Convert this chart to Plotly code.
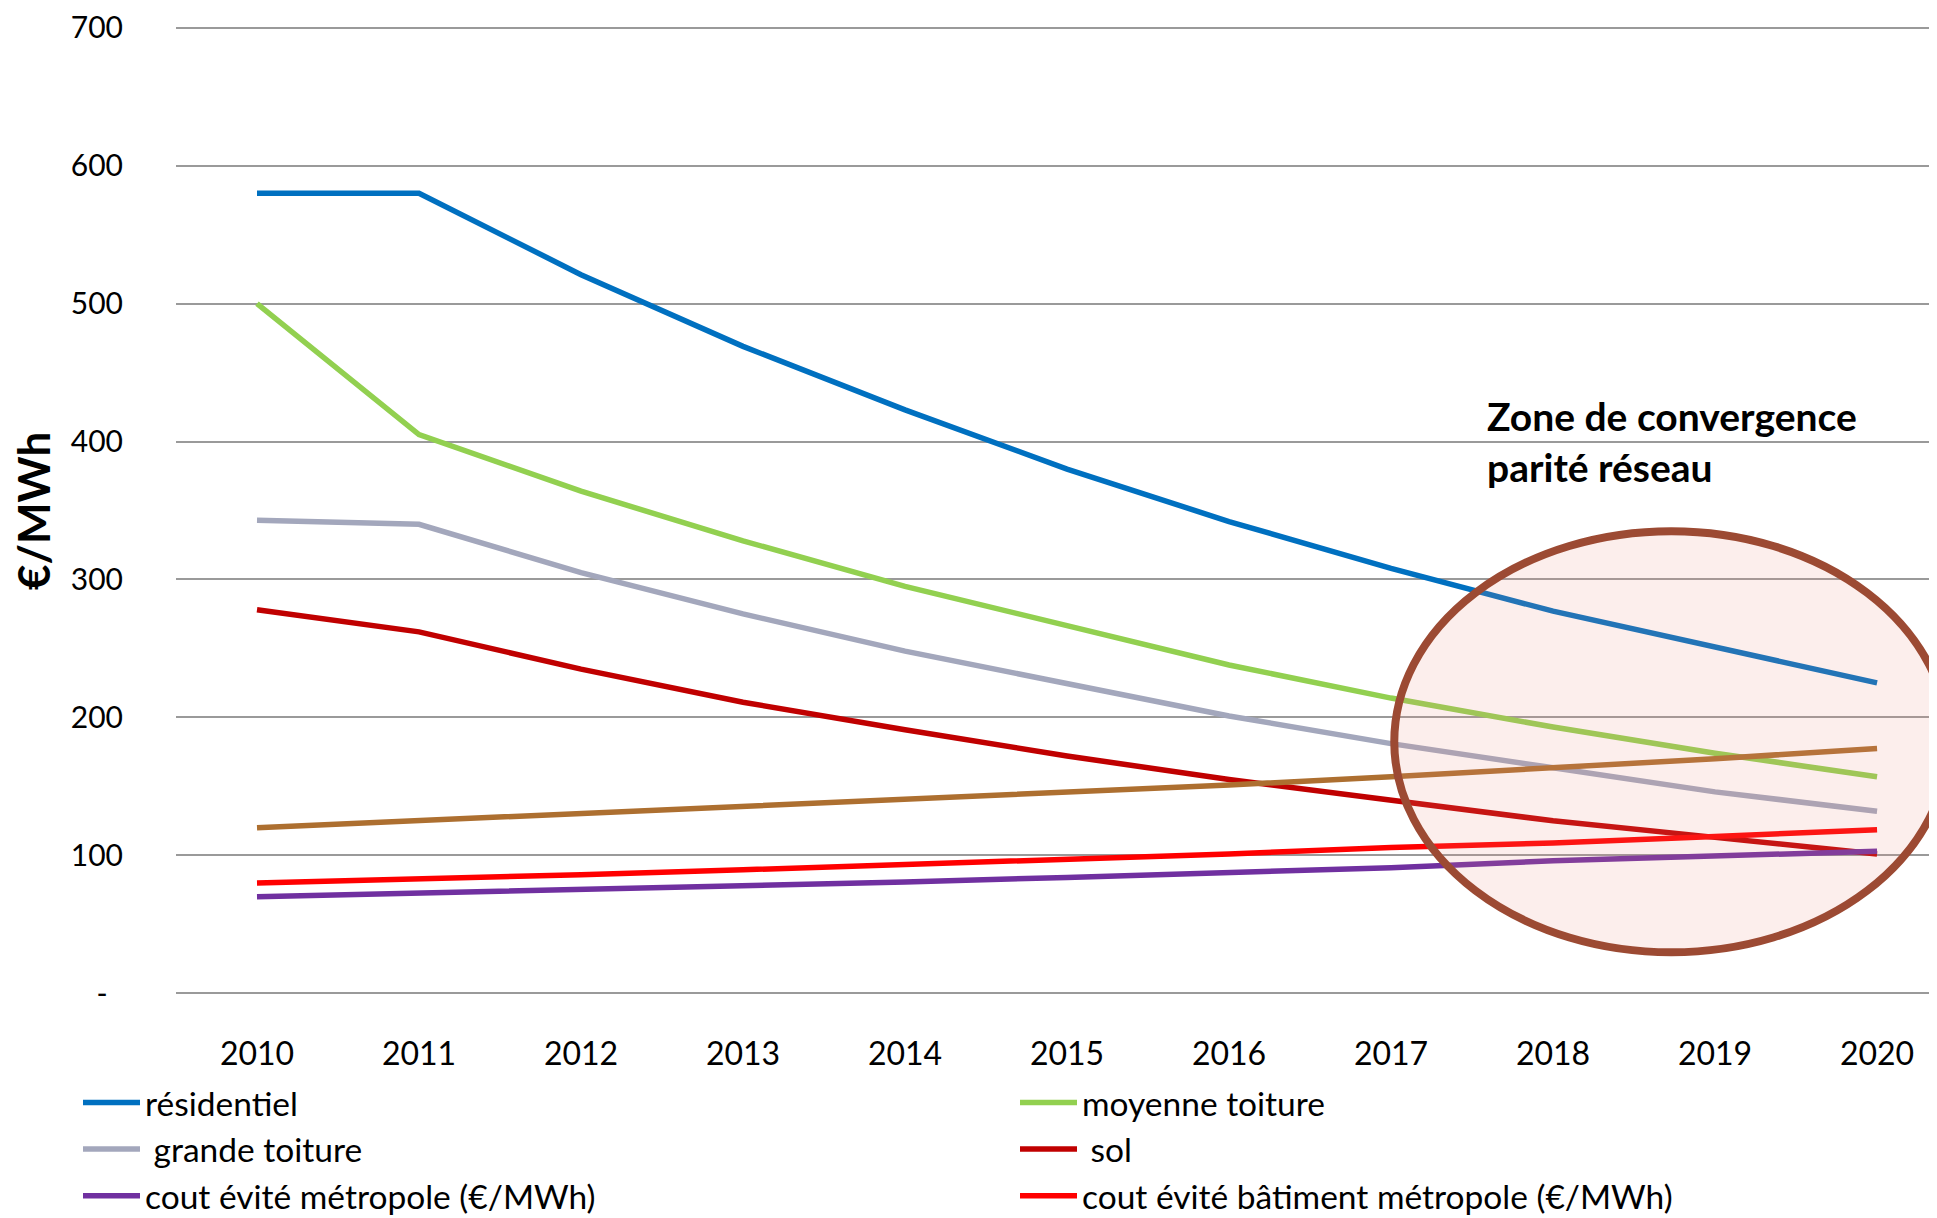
import plotly.graph_objects as go

years = ["2010", "2011", "2012", "2013", "2014", "2015", "2016", "2017", "2018", "2019", "2020"]

residentiel = [580, 580, 521, 469, 423, 380, 342, 308, 277, 251, 225]
moyenne_toiture = [500, 405, 364, 328, 295, 266, 238, 214, 193, 174, 157]
grande_toiture = [343, 340, 305, 275, 248, 224, 201, 181, 163, 146, 132]
sol = [278, 262, 235, 211, 191, 172, 155, 140, 125, 113, 101]
cout_evite_metropole = [70, 72.5, 75, 78, 80.6, 84, 87.6, 91, 96, 99, 103]
cout_evite_batiment = [80, 82.5, 86, 89.5, 93, 96.7, 101, 105.6, 109, 113.7, 118.5]
serie_7 = [120, 125, 130, 135, 140.5, 146, 151, 157, 163, 170, 177.5]

y_tickvals = [0, 100, 200, 300, 400, 500, 600, 700]
y_ticktext = ["-\u00a0\u00a0", "100", "200", "300", "400", "500", "600", "700"]

# (name, values, colour, legend id or None)
series = [
    ("résidentiel", residentiel, "#0070C0", "legend"),
    ("moyenne toiture", moyenne_toiture, "#92D050", "legend2"),
    (" grande toiture", grande_toiture, "#A3A7BC", "legend"),
    (" sol", sol, "#C00000", "legend2"),
    ("cout évité métropole (€/MWh)", cout_evite_metropole, "#7030A0", "legend"),
    ("cout évité bâtiment métropole (€/MWh)", cout_evite_batiment, "#FF0000", "legend2"),
    ("série 7", serie_7, "#AD6F30", None),
]

FONT = "Lato, 'Open Sans', sans-serif"

# page body has an 8px margin: place everything relative to the page
OFF = 8
W, H = 1937 - OFF, 1218 - OFF
Y0, Y1 = -2, 702
L = 176 - OFF
R = 0
T = 28 - OFF - 2 * 1.379
B = H - (993 - OFF + 2 * 1.379)
pw = W - L - R
ph = H - T - B


def px_x(page_x):
    return (page_x - OFF - L) / pw


def px_y(page_y):
    return (H - B - (page_y - OFF)) / ph


fig = go.Figure()
for name, vals, color, leg in series:
    fig.add_trace(go.Scatter(
        x=years, y=vals, name=name, mode="lines",
        line=dict(color=color, width=5.5),
        showlegend=leg is not None,
        legend=leg if leg else "legend",
    ))

legend_common = dict(
    orientation="v", xanchor="left", yanchor="top",
    font=dict(size=33.5, color="black"),
    bgcolor="rgba(0,0,0,0)", itemclick=False, itemdoubleclick=False,
    tracegroupgap=0, itemwidth=57,
)

fig.update_layout(
    width=W, height=H,
    margin=dict(l=L, r=R, t=T, b=B, pad=0, autoexpand=False),
    paper_bgcolor="white", plot_bgcolor="white",
    font=dict(family=FONT, size=30, color="black"),
    xaxis=dict(
        type="category", range=[-0.5, 10.37],
        showgrid=False, zeroline=False, showline=False,
        ticks="", ticklabelstandoff=36,
        tickfont=dict(size=32, color="black"),
    ),
    yaxis=dict(
        range=[Y0, Y1], tickvals=y_tickvals, ticktext=y_ticktext,
        showgrid=True, gridcolor="#9A9A9A", gridwidth=2,
        zeroline=False, showline=False, ticks="",
        ticklabelstandoff=52,
        tickfont=dict(size=30, color="black"),
    ),
    legend=dict(x=px_x(78), y=px_y(1074), **legend_common),
    legend2=dict(x=px_x(1015), y=px_y(1074), **legend_common),
    showlegend=True,
)

# Convergence zone ellipse
fig.add_shape(
    type="circle", xref="x", yref="y",
    x0=7.02, x1=10.44, y0=29.7, y1=335,
    line=dict(color="#9C4A33", width=8),
    fillcolor="rgba(235,140,130,0.15)",
    layer="above",
)

fig.add_annotation(
    text="Zone de convergence<br>parité réseau",
    xref="x", yref="y", x=7.58, y=437,
    xanchor="left", yanchor="top", align="left",
    showarrow=False,
    font=dict(family=FONT, size=39, color="black", weight="bold"),
)

fig.add_annotation(
    text="€/MWh", textangle=-90,
    xref="paper", yref="paper",
    x=px_x(33), y=px_y(511),
    xanchor="center", yanchor="middle",
    showarrow=False,
    font=dict(family=FONT, size=44, color="black", weight="bold"),
)

fig.write_html("out.html")
